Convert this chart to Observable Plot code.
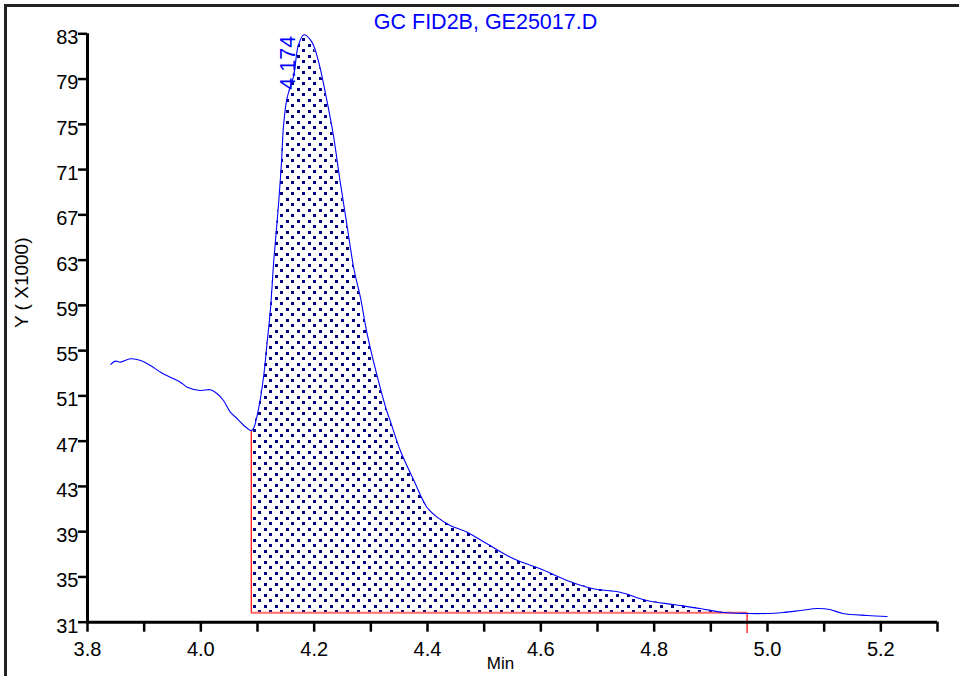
<!DOCTYPE html>
<html><head><meta charset="utf-8">
<script src="https://cdn.jsdelivr.net/npm/d3@7"></script>
<script src="https://cdn.jsdelivr.net/npm/@observablehq/plot@0.6"></script>
<style>
html,body{margin:0;padding:0;background:#fff;overflow:hidden}
#wrap{position:relative;width:959px;height:676px;overflow:hidden}
#chart{position:absolute;left:0;top:0}
#frame{position:absolute;left:4px;top:4px;width:1000px;height:700px;border-left:3px solid #222;border-top:3px solid #222;pointer-events:none}
</style></head><body>
<div id="wrap"><div id="chart"></div><div id="frame"></div></div>
<script>
// Chromatogram trace (minutes, signal x1000)
const traceT = [3.841,3.849,3.858,3.876,3.894,3.911,3.929,3.946,3.964,3.976,
  3.999,4.017,4.029,4.040,4.052,4.064,4.076,4.089,4.093,4.102,
  4.111,4.117,4.123,4.129,4.136,4.142,4.146,4.152,4.164,4.172,
  4.182,4.196,4.208,4.223,4.234,4.246,4.258,4.270,4.282,4.293,
  4.311,4.329,4.334,4.352,4.376,4.399,4.417,4.440,4.470,4.505,
  4.552,4.599,4.646,4.693,4.740,4.787,4.834,4.881,4.922,4.964,
  4.999,5.028,5.058,5.088,5.110,5.133,5.176,5.211];
const traceV = [53.78,54.07,53.98,54.28,54.13,53.69,53.09,52.65,52.21,51.77,
  51.48,51.54,51.19,50.59,49.56,49.00,48.38,47.94,48.12,49.89,
  52.80,55.72,58.72,63.14,67.21,71.36,74.90,77.28,79.32,81.97,
  82.91,82.26,80.49,76.96,74.01,69.89,66.06,62.26,59.61,56.60,
  52.80,49.53,48.83,46.17,43.52,41.16,40.28,39.55,38.95,37.93,
  36.60,35.72,34.69,33.95,33.65,32.92,32.56,32.21,31.86,31.77,
  31.77,31.86,32.03,32.21,32.12,31.77,31.59,31.50];

// Integration
const integStart = 4.089;
const integStartValue = 47.94;
const integEnd = 4.964;
const integEndLow = 30.0;
const baselineValue = 31.83;

// Peak annotation
const peakTime = 4.174;
const peakValue = 82.91;
const peakLabel = "4.174";

// Axes
const xDomain = [3.8, 5.3];
const yDomain = [31, 83];
const xTicks = [3.8,3.9,4.0,4.1,4.2,4.3,4.4,4.5,4.6,4.7,4.8,4.9,5.0,5.1,5.2,5.3];
const xTickLabels = ["3.8","4.0","4.2","4.4","4.6","4.8","5.0","5.2"];
const yTicks = [31,35,39,43,47,51,55,59,63,67,71,75,79,83];

const titleText = "GC FID2B, GE25017.D";
const yLabel = "Y ( X1000)";
const xLabel = "Min";

const trace = traceT.map((t, i) => ({t, v: traceV[i]}));
const filled = trace.filter(d => d.t >= integStart && d.t <= integEnd);

const FONT = "Liberation Sans, Arial, Helvetica, sans-serif";

const svg = Plot.plot({
  width: 959,
  height: 676,
  marginLeft: 87,
  marginRight: 22,
  marginTop: 33.3,
  marginBottom: 54.3,
  style: {fontFamily: FONT, fontSize: "20px", background: "transparent", overflow: "visible", color: "#000"},
  x: {domain: xDomain},
  y: {domain: yDomain},
  marks: [
    Plot.areaY(filled, {x: "t", y1: baselineValue, y2: "v", fill: "url(#dots)"}),
    Plot.ruleY([baselineValue], {x1: integStart, x2: integEnd, stroke: "#ff6a6a", strokeWidth: 2}),
    Plot.ruleX([integStart], {y1: baselineValue, y2: integStartValue, stroke: "#ff0000", strokeWidth: 1.2}),
    Plot.ruleX([integEnd], {y1: integEndLow, y2: baselineValue, stroke: "#ff0000", strokeWidth: 1.2}),
    Plot.lineY(trace, {x: "t", y: "v", stroke: "#0000ff", strokeWidth: 1.1, curve: "catmull-rom"}),
    // axes
    Plot.axisX({ticks: xTicks, tickSize: 10, tickPadding: 10, strokeWidth: 2.5, fontSize: 20, label: null,
      tickFormat: d => { const s = d.toFixed(1); return xTickLabels.includes(s) ? s : ""; }}),
    Plot.axisY({ticks: yTicks, tickSize: 9, strokeWidth: 2.5, label: null, tickFormat: () => ""}),
    Plot.axisY({ticks: yTicks, tickSize: 0, tickPadding: 9, dy: 4, fontSize: 20, label: null}),
    Plot.ruleY([yDomain[0]], {stroke: "#000", strokeWidth: 3}),
    Plot.ruleX([xDomain[0]], {stroke: "#000", strokeWidth: 3}),
    // texts
    Plot.text([titleText], {frameAnchor: "top", dx: -27, dy: -5, lineAnchor: "bottom", fill: "#0000ff", fontSize: 21.5}),
    Plot.text([yLabel], {frameAnchor: "left", dx: -66, dy: 0, rotate: -90, fill: "#000", fontSize: 19}),
    Plot.text([xLabel], {frameAnchor: "bottom", dx: -12, dy: 35, lineAnchor: "top", fill: "#000", fontSize: 17}),
    Plot.text([{t: peakTime, v: peakValue}], {x: "t", y: "v", text: () => peakLabel, rotate: -90, textAnchor: "end", lineAnchor: "bottom", dx: -4, dy: 1, fill: "#0000ff", fontSize: 21.5})
  ]
});

const defs = document.createElementNS("http://www.w3.org/2000/svg", "defs");
defs.innerHTML = '<pattern id="dots" patternUnits="userSpaceOnUse" width="11" height="11">' +
  '<rect x="0" y="0" width="3" height="3" fill="#000080" shape-rendering="crispEdges"/>' +
  '<rect x="5" y="5" width="3" height="3" fill="#000080" shape-rendering="crispEdges"/></pattern>';
svg.insertBefore(defs, svg.firstChild);
document.getElementById("chart").appendChild(svg);
</script>
</body></html>
